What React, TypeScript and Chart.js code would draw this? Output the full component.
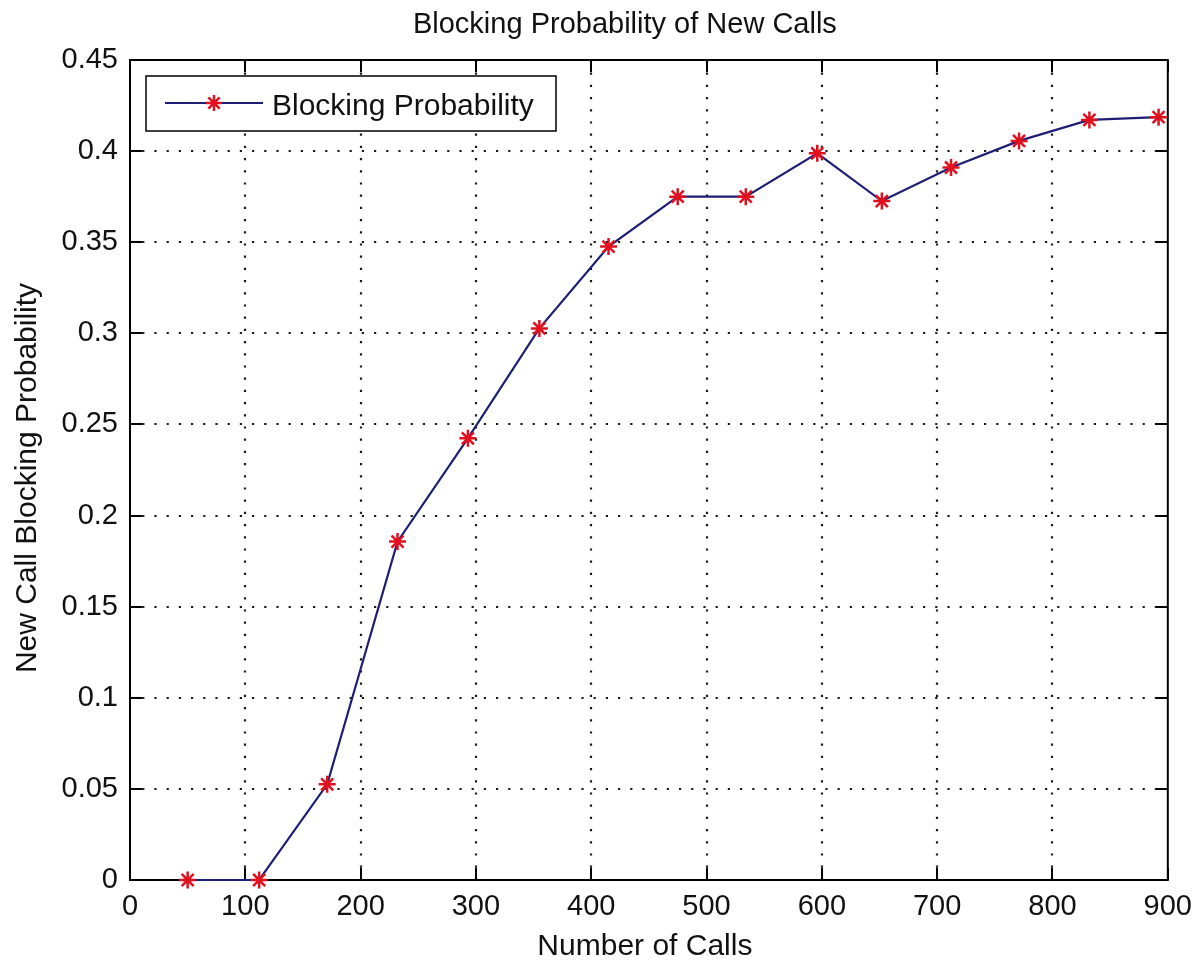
import React, { useEffect, useRef } from 'react';
import { Chart, registerables } from 'chart.js';

Chart.register(...registerables);

// ---------- data ----------
const callCounts = [50, 112, 171, 232, 293, 355, 415, 475, 534, 596, 652, 712, 771, 832, 892];
const blockingProbability = [0, 0, 0.0525, 0.1857, 0.2424, 0.3027, 0.3476, 0.375, 0.375, 0.3988, 0.3726, 0.391, 0.4056, 0.4171, 0.4186];

const xTickValues = [0, 100, 200, 300, 400, 500, 600, 700, 800, 900];
const xTickLabels = ['0', '100', '200', '300', '400', '500', '600', '700', '800', '900'];
const yTickValues = [0, 0.05, 0.1, 0.15, 0.2, 0.25, 0.3, 0.35, 0.4, 0.45];
const yTickLabels = ['0', '0.05', '0.1', '0.15', '0.2', '0.25', '0.3', '0.35', '0.4', '0.45'];

const chartTitle = 'Blocking Probability of New Calls';
const xAxisTitle = 'Number of Calls';
const yAxisTitle = 'New Call Blocking Probability';
const seriesLabel = 'Blocking Probability';

// ---------- styles ----------
const FONT = '"Liberation Sans", Arial, Helvetica, sans-serif';
const TEXT_COLOR = '#111111';
const LINE_COLOR = '#1e1e74';
const MARKER_COLOR = '#e0101e';
const TICK_LEN = 12;

function drawStar(ctx: CanvasRenderingContext2D, x: number, y: number, r: number) {
  ctx.save();
  ctx.strokeStyle = MARKER_COLOR;
  ctx.lineWidth = 2.5;
  ctx.beginPath();
  for (let k = 0; k < 4; k++) {
    const a = (Math.PI / 4) * k;
    ctx.moveTo(x - Math.cos(a) * r, y - Math.sin(a) * r);
    ctx.lineTo(x + Math.cos(a) * r, y + Math.sin(a) * r);
  }
  ctx.stroke();
  ctx.restore();
}

const matlabPlugin = {
  id: 'matlabFrame',
  beforeDatasetsDraw(chart: any) {
    const { ctx, chartArea } = chart;
    const { left, right, top, bottom } = chartArea;
    const xs = chart.scales.x;
    const ys = chart.scales.y;
    ctx.save();
    // dotted grid
    ctx.strokeStyle = '#1a1a1a';
    ctx.lineWidth = 2.2;
    ctx.setLineDash([2.2, 10]);
    xTickValues.forEach((v) => {
      const px = Math.round(xs.getPixelForValue(v));
      if (px <= left + 1 || px >= right - 1) return;
      ctx.beginPath();
      ctx.moveTo(px, bottom);
      ctx.lineTo(px, top);
      ctx.stroke();
    });
    yTickValues.forEach((v) => {
      const py = Math.round(ys.getPixelForValue(v));
      if (py <= top + 1 || py >= bottom - 1) return;
      ctx.beginPath();
      ctx.moveTo(left, py);
      ctx.lineTo(right, py);
      ctx.stroke();
    });
    ctx.setLineDash([]);
    // box
    ctx.strokeStyle = '#000';
    ctx.lineWidth = 2;
    ctx.strokeRect(left, top, right - left, bottom - top);
    // inward ticks
    ctx.beginPath();
    xTickValues.forEach((v) => {
      const px = Math.round(xs.getPixelForValue(v));
      ctx.moveTo(px, bottom);
      ctx.lineTo(px, bottom - TICK_LEN);
      ctx.moveTo(px, top);
      ctx.lineTo(px, top + TICK_LEN);
    });
    yTickValues.forEach((v) => {
      const py = Math.round(ys.getPixelForValue(v));
      ctx.moveTo(left, py);
      ctx.lineTo(left + TICK_LEN, py);
      ctx.moveTo(right, py);
      ctx.lineTo(right - TICK_LEN, py);
    });
    ctx.stroke();
    ctx.restore();
  },
  afterDatasetsDraw(chart: any) {
    const { ctx, chartArea } = chart;
    const { left, top } = chartArea;
    ctx.save();
    // legend
    const bx = left + 16;
    const by = top + 16;
    const bw = 410;
    const bh = 55;
    ctx.fillStyle = '#ffffff';
    ctx.fillRect(bx, by, bw, bh);
    ctx.strokeStyle = '#000';
    ctx.lineWidth = 1.5;
    ctx.strokeRect(bx, by, bw, bh);
    const ly = by + 27;
    ctx.strokeStyle = LINE_COLOR;
    ctx.lineWidth = 2;
    ctx.beginPath();
    ctx.moveTo(bx + 19, ly);
    ctx.lineTo(bx + 117, ly);
    ctx.stroke();
    drawStar(ctx, bx + 68, ly, 8);
    ctx.fillStyle = TEXT_COLOR;
    ctx.font = `30px ${FONT}`;
    ctx.textAlign = 'left';
    ctx.textBaseline = 'alphabetic';
    ctx.fillText(seriesLabel, bx + 126, by + 39);
    ctx.restore();
  },
  afterDraw(chart: any) {
    const { ctx, chartArea } = chart;
    const { left, right, top, bottom } = chartArea;
    const cx = (left + right) / 2;
    const cy = (top + bottom) / 2;
    ctx.save();
    ctx.fillStyle = TEXT_COLOR;
    ctx.textBaseline = 'alphabetic';
    ctx.textAlign = 'center';
    // title
    ctx.font = `29px ${FONT}`;
    ctx.fillText(chartTitle, cx - 24, top - 27);
    // x title
    ctx.font = `30px ${FONT}`;
    ctx.fillText(xAxisTitle, cx - 4, bottom + 75);
    // y title
    ctx.translate(36, cy + 8);
    ctx.rotate(-Math.PI / 2);
    ctx.fillText(yAxisTitle, 0, 0);
    ctx.restore();
  },
};

export default function App() {
  const canvasRef = useRef<HTMLCanvasElement | null>(null);

  useEffect(() => {
    if (!canvasRef.current) return;
    const points = callCounts.map((x, i) => ({ x, y: blockingProbability[i] }));
    const chart = new Chart(canvasRef.current, {
      type: 'line',
      data: {
        datasets: [
          {
            label: seriesLabel,
            data: points,
            borderColor: LINE_COLOR,
            borderWidth: 2.2,
            backgroundColor: MARKER_COLOR,
            pointStyle: 'star',
            pointRadius: 8.5,
            pointBorderWidth: 2.5,
            pointBorderColor: MARKER_COLOR,
            pointBackgroundColor: MARKER_COLOR,
            pointHoverRadius: 8.5,
            tension: 0,
            fill: false,
            clip: false as any,
          },
        ],
      },
      plugins: [matlabPlugin],
      options: {
        animation: false,
        responsive: true,
        maintainAspectRatio: false,
        events: [],
        layout: { padding: { top: 60, right: 31, left: 0, bottom: 0 } },
        plugins: {
          legend: { display: false },
          title: { display: false },
          tooltip: { enabled: false },
        },
        scales: {
          x: {
            type: 'linear',
            min: 0,
            max: 900,
            grid: { display: false, drawTicks: false },
            border: { display: false },
            afterBuildTicks: (scale: any) => {
              scale.ticks = xTickValues.map((value) => ({ value }));
            },
            afterFit: (scale: any) => {
              scale.height = 85;
            },
            ticks: {
              autoSkip: false,
              maxRotation: 0,
              padding: 10,
              color: TEXT_COLOR,
              font: { family: FONT, size: 29 },
              callback: (_v: any, i: number) => xTickLabels[i],
            },
          },
          y: {
            type: 'linear',
            min: 0,
            max: 0.45,
            grid: { display: false, drawTicks: false },
            border: { display: false },
            afterBuildTicks: (scale: any) => {
              scale.ticks = yTickValues.map((value) => ({ value }));
            },
            afterFit: (scale: any) => {
              scale.width = 130;
            },
            ticks: {
              autoSkip: false,
              padding: 12,
              color: TEXT_COLOR,
              font: { family: FONT, size: 29 },
              callback: (_v: any, i: number) => yTickLabels[i],
            },
          },
        },
      } as any,
    });
    return () => chart.destroy();
  }, []);

  return (
    <div style={{ position: 'absolute', left: 0, top: 0, width: 1202, height: 965, background: '#fff' }}>
      <canvas ref={canvasRef} />
    </div>
  );
}
